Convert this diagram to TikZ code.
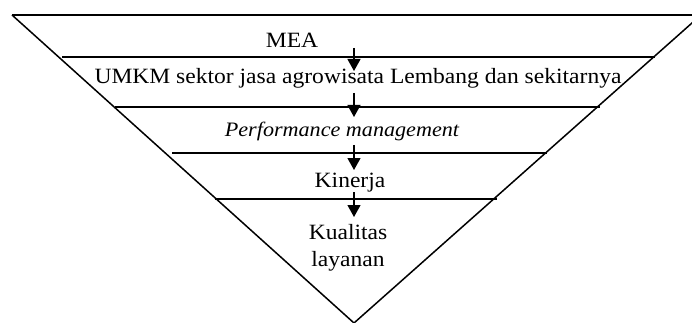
\documentclass[tikz,border=0pt]{standalone}
\usepackage{fontspec}
\setmainfont{Liberation Serif}[FakeStretch=1.08]
\usetikzlibrary{arrows.meta}
\tikzset{
  lvl/.style={line width=2pt},
  side/.style={line width=1.5pt},
  flow/.style={line width=1.2pt,-{Triangle[length=12pt,width=13pt]}},
  lbl/.style={inner sep=0pt,font=\fontsize{21.8}{27}\selectfont,align=center},
}
\begin{document}
\begin{tikzpicture}[x=1pt,y=-1pt]
\useasboundingbox (0,0) rectangle (692,323);
% funnel
\coordinate (tl) at (12,15);
\coordinate (tr) at (701,15);
\coordinate (ap) at (354,323);
\draw[side] (tl) -- (ap) -- (tr);
\draw[lvl] (tl) -- (tr);
\coordinate (l1a) at (62,57);  \coordinate (l1b) at (655,57);
\coordinate (l2a) at (115,107); \coordinate (l2b) at (600,107);
\coordinate (l3a) at (172,153); \coordinate (l3b) at (547,153);
\coordinate (l4a) at (215,199); \coordinate (l4b) at (497,199);
\draw[lvl] (l1a) -- (l1b);
\draw[lvl] (l2a) -- (l2b);
\draw[lvl] (l3a) -- (l3b);
\draw[lvl] (l4a) -- (l4b);
% labels
\node[lbl] (mea) at (292,40) {MEA};
\node[lbl] (umkm) at (358,78) {UMKM sektor jasa agrowisata Lembang dan sekitarnya};
\node[lbl,font=\fontsize{20.5}{27}\selectfont\itshape] (pm) at (342,131) {Performance management};
\node[lbl] (kin) at (350,183) {Kinerja};
\node[lbl] (kl) at (348,248) {Kualitas\\layanan};
% arrows
\coordinate (a1s) at (354,48);  \coordinate (a1e) at (354,71);
\coordinate (a2s) at (354,93);  \coordinate (a2e) at (354,117);
\coordinate (a3s) at (354,145); \coordinate (a3e) at (354,170);
\coordinate (a4s) at (354,192); \coordinate (a4e) at (354,217);
\draw[flow] (a1s) -- (a1e);
\draw[flow] (a2s) -- (a2e);
\draw[flow] (a3s) -- (a3e);
\draw[flow] (a4s) -- (a4e);
\end{tikzpicture}
\end{document}
